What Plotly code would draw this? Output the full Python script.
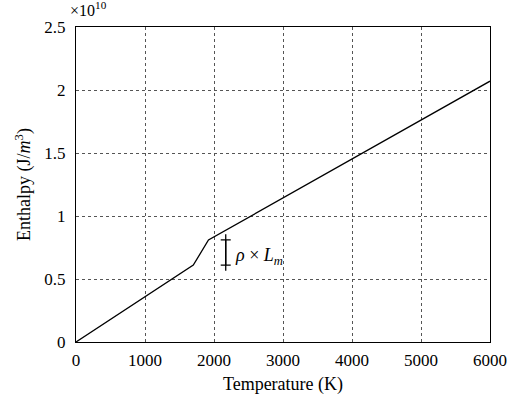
import plotly.graph_objects as go

temperature = [0, 1700, 1920, 6000]
enthalpy = [0.0, 0.61e10, 0.81e10, 2.07e10]

latent_T = 2170
latent_low = 0.61e10
latent_high = 0.81e10
latent_ext = 0.045e10
latent_label = "<i>ρ</i> × <i>L<sub>m</sub></i>"

x_ticks = [0, 1000, 2000, 3000, 4000, 5000, 6000]
y_ticks = [0, 0.5e10, 1e10, 1.5e10, 2e10, 2.5e10]
y_tick_text = ["0", "0.5", "1", "1.5", "2", "2.5"]

FONT = "Liberation Serif"

fig = go.Figure()
fig.add_trace(go.Scatter(x=temperature, y=enthalpy, mode="lines",
                         line=dict(color="black", width=1.3), showlegend=False, hoverinfo="skip"))
# latent heat bar (stem extends slightly beyond caps)
fig.add_trace(go.Scatter(x=[latent_T, latent_T],
                         y=[latent_low - latent_ext, latent_high + latent_ext],
                         mode="lines", line=dict(color="black", width=1.3),
                         showlegend=False, hoverinfo="skip"))
fig.add_trace(go.Scatter(x=[latent_T], y=[(latent_low + latent_high) / 2], mode="markers",
                         marker=dict(size=0.1, color="black"),
                         error_y=dict(type="constant", value=(latent_high - latent_low) / 2,
                                      color="black", thickness=1.3, width=5),
                         showlegend=False, hoverinfo="skip"))
fig.add_annotation(x=latent_T, y=(latent_low + latent_high) / 2 - 0.03e10, text=latent_label,
                   showarrow=False, xanchor="left", xshift=7, yanchor="middle",
                   font=dict(family=FONT, size=18, color="black"))
fig.add_annotation(xref="paper", yref="paper", x=0, y=1, text="×10<sup>10</sup>",
                   showarrow=False, xanchor="left", yanchor="bottom", xshift=-8, yshift=6,
                   font=dict(family=FONT, size=16, color="black"))

grid = dict(showgrid=True, gridcolor="#555", griddash="dot", gridwidth=0.8,
            showline=True, linecolor="black", linewidth=1.3, mirror=True,
            ticks="", zeroline=False,
            tickfont=dict(family=FONT, size=17, color="black"))

fig.update_xaxes(range=[0, 6000], tickvals=x_ticks, ticktext=[str(v) for v in x_ticks],
                 ticklabelstandoff=2,
                 title=dict(text="Temperature (K)", font=dict(family=FONT, size=18, color="black"),
                            standoff=8), **grid)
fig.update_yaxes(range=[0, 2.5e10], tickvals=y_ticks, ticktext=y_tick_text,
                 ticklabelstandoff=6,
                 title=dict(text="Enthalpy (J/<i>m</i><sup>3</sup>)",
                            font=dict(family=FONT, size=18, color="black"), standoff=8), **grid)

fig.update_layout(width=519, height=402, paper_bgcolor="white", plot_bgcolor="white",
                  margin=dict(l=76, r=23, t=27, b=59), font=dict(family=FONT))

fig.write_html("out.html", config={"displayModeBar": False},
               post_script=("document.documentElement.style.margin='0';"
                            "document.documentElement.style.overflow='hidden';"
                            "document.body.style.margin='0';"
                            "document.body.style.overflow='hidden';"))
